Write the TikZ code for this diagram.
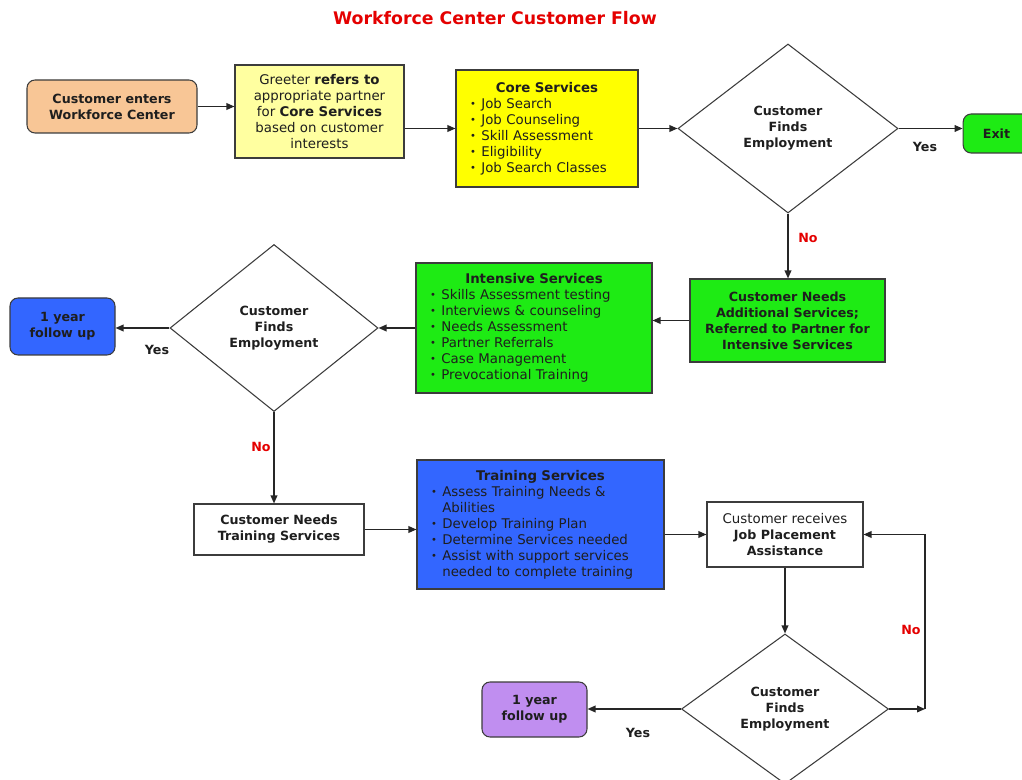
\documentclass[tikz,border=0pt]{standalone}
\usepackage{fontspec}
\setmainfont{DejaVu Sans}
\usetikzlibrary{shapes.geometric,arrows.meta,calc}
\definecolor{peach}{RGB}{248,198,150}
\definecolor{lightyel}{RGB}{255,255,160}
\definecolor{coreyel}{RGB}{255,255,0}
\definecolor{brightgreen}{RGB}{30,235,20}
\definecolor{svcblue}{RGB}{51,102,255}
\definecolor{lilac}{RGB}{192,142,240}
\definecolor{bordergray}{RGB}{60,60,60}
\definecolor{txt}{RGB}{30,30,30}
\definecolor{titlered}{RGB}{228,0,0}
\newcommand\bpt{\makebox[8.5pt][l]{\raisebox{0.15ex}{\scalebox{0.75}{\textbullet}}}}
\newcommand\hng{\hspace*{8.5pt}}
\begin{document}
\begin{tikzpicture}[x=0.75pt,y=-0.75pt,
  font=\fontsize{10}{12}\selectfont,
  boldfont/.style={font=\fontsize{9.5}{12}\selectfont\bfseries},
  pbox/.style={draw=bordergray, line width=0.8pt, align=center, inner sep=2pt, text=txt},
  rbox/.style={pbox, rounded corners=6pt, boldfont},
  dec/.style={diamond, draw=bordergray, line width=0.8pt, inner sep=0pt, align=center, text=txt, boldfont},
  listbox/.style={pbox, align=left, inner xsep=10.5pt},
  conn/.style={draw=black!85, line width=1pt, -{Triangle[length=6pt,width=5pt]}},
  lbl/.style={boldfont, text=txt},
  nolbl/.style={boldfont, text=titlered}]
\useasboundingbox (0,0) rectangle (1022,780);
\clip (0,0) rectangle (1022,780);

\node[font=\fontsize{13}{15}\selectfont\bfseries, text=titlered] (title) at (495,18) {Workforce Center Customer Flow};

% row 1
\node[rbox, fill=peach, minimum width=127.5pt, minimum height=39.75pt] (start) at (112,106.5) {Customer enters\\Workforce Center};
\node[pbox, fill=lightyel, minimum width=126.75pt, minimum height=69.75pt] (greet) at (319.5,111.5) {Greeter \textbf{refers to}\\appropriate partner\\for \textbf{Core Services}\\based on customer\\interests};
\node[listbox, fill=coreyel, minimum width=136.5pt, minimum height=87.75pt, text width=115.5pt] (core) at (547,128.5) {\makebox[\linewidth]{\bfseries Core Services}\\\bpt Job Search\\\bpt Job Counseling\\\bpt Skill Assessment\\\bpt Eligibility\\\bpt Job Search Classes};
\node[dec, minimum width=165pt, minimum height=126.75pt] (d1) at (788,128.5) {Customer\\Finds\\Employment};
\node[rbox, fill=brightgreen, minimum width=50pt, minimum height=29.25pt] (exit) at (996.5,133.5) {Exit};

% row 2
\node[pbox, fill=brightgreen, boldfont, minimum width=146.25pt, minimum height=62.25pt] (addl) at (787.5,320.5) {Customer Needs\\Additional Services;\\Referred to Partner for\\Intensive Services};
\node[listbox, fill=brightgreen, minimum width=177pt, minimum height=97.5pt, text width=156pt] (intens) at (534,328) {\makebox[\linewidth]{\bfseries Intensive Services}\\\bpt Skills Assessment testing\\\bpt Interviews \& counseling\\\bpt Needs Assessment\\\bpt Partner Referrals\\\bpt Case Management\\\bpt Prevocational Training};
\node[dec, minimum width=156pt, minimum height=125.25pt] (d2) at (274,328) {Customer\\Finds\\Employment};
\node[rbox, fill=svcblue, minimum width=78.75pt, minimum height=42.75pt] (fu1) at (62.5,326.5) {1 year\\follow up};

% row 3
\node[pbox, fill=white, boldfont, minimum width=127.5pt, minimum height=38.25pt] (needtr) at (279,529.5) {Customer Needs\\Training Services};
\node[listbox, fill=svcblue, minimum width=185.25pt, minimum height=96.75pt, text width=164.25pt] (train) at (540.5,524.5) {\makebox[\linewidth]{\bfseries Training Services}\\\bpt Assess Training Needs \&\\\hng Abilities\\\bpt Develop Training Plan\\\bpt Determine Services needed\\\bpt Assist with support services\\\hng needed to complete training};
\node[pbox, fill=white, minimum width=117pt, minimum height=48.75pt] (jp) at (785,534.5) {Customer receives\\{\fontsize{9.5}{12}\selectfont\bfseries Job Placement}\\{\fontsize{9.5}{12}\selectfont\bfseries Assistance}};
\node[dec, minimum width=155.25pt, minimum height=112.5pt] (d3) at (785,709) {Customer\\Finds\\Employment};
\node[rbox, fill=lilac, minimum width=78.75pt, minimum height=41.25pt] (fu2) at (534.5,709.5) {1 year\\follow up};
\coordinate (nr) at (925,709);

% connectors
\draw[conn] (start.east) -- (start.east -| greet.west);
\draw[conn] (greet.east |- core.west) -- (core.west);
\draw[conn] (core.east) -- (d1.west);
\draw[conn] (d1.east) -- (d1.east -| exit.west);
\draw[conn] (d1.south) -- (d1.south |- addl.north);
\draw[conn] (addl.west) -- (addl.west -| intens.east);
\draw[conn] (intens.west) -- (d2.east);
\draw[conn] (d2.west) -- (d2.west -| fu1.east);
\draw[conn] (d2.south) -- (d2.south |- needtr.north);
\draw[conn] (needtr.east) -- (needtr.east -| train.west);
\draw[conn] (train.east |- jp.west) -- (jp.west);
\draw[conn] (jp.south) -- (d3.north);
\draw[conn] (d3.east) -- (nr);
\draw[conn] (nr) -- (nr |- jp.east) -- (jp.east);
\draw[conn] (d3.west) -- (d3.west -| fu2.east);

% labels
\node[lbl] (y1) at (925,147) {Yes};
\node[nolbl] (n1) at (808,238) {No};
\node[lbl] (y2) at (157,350) {Yes};
\node[nolbl] (n2) at (261,447) {No};
\node[nolbl] (n3) at (911,630) {No};
\node[lbl] (y3) at (638,733) {Yes};
\end{tikzpicture}
\end{document}
